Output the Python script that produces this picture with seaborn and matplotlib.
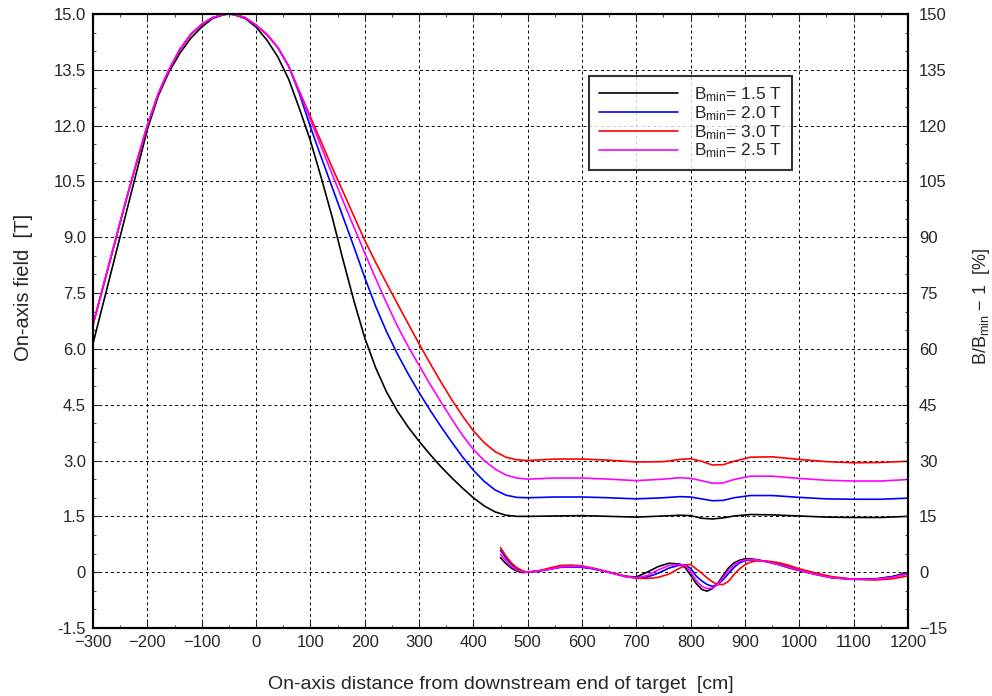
import numpy as np
import pandas as pd
import matplotlib.pyplot as plt
import seaborn as sns
from matplotlib.ticker import MultipleLocator, FixedLocator

# === 1. Data ===

series = ["1.5", "2.0", "3.0", "2.5"]
colors = ["black", "blue", "red", "magenta"]

# on-axis field [T]
z_cm = [-300, -280, -260, -240, -220, -200, -180, -160, -140, -120, -100, -80, -60, -50, -40, -20,
        0, 20, 40, 60, 80, 100, 120, 140, 160, 180, 200, 220, 240, 260, 280, 300, 320, 340, 360,
        380, 400, 420, 440, 460, 480, 500, 550, 600, 650, 700, 750, 780, 800, 820, 840, 860, 880,
        910, 950, 1000, 1050, 1100, 1150, 1200]

field_15 = [6.15, 7.3, 8.45, 9.6, 10.75, 11.9, 12.8, 13.45, 13.95, 14.35, 14.65, 14.88, 14.98, 15.0, 14.98, 14.88,
            14.65, 14.3, 13.85, 13.25, 12.45, 11.6, 10.6, 9.55, 8.4, 7.3, 6.3, 5.5, 4.85, 4.33, 3.9, 3.52, 3.17, 2.84, 2.54,
            2.26, 2.0, 1.78, 1.62, 1.53, 1.5, 1.5, 1.51, 1.52, 1.5, 1.48, 1.51, 1.53, 1.52, 1.45, 1.43, 1.46, 1.51,
            1.55, 1.54, 1.51, 1.48, 1.47, 1.47, 1.5]
field_20 = [6.65, 7.75, 8.85, 9.95, 11.0, 12.0, 12.85, 13.5, 14.05, 14.45, 14.72, 14.9, 14.99, 15.0, 14.99, 14.9,
            14.7, 14.45, 14.1, 13.6, 12.85, 11.97, 11.15, 10.35, 9.55, 8.75, 7.92, 7.15, 6.47, 5.87, 5.33, 4.83, 4.36, 3.92, 3.5,
            3.1, 2.74, 2.44, 2.21, 2.07, 2.01, 2.0, 2.02, 2.02, 2.0, 1.97, 2.0, 2.03, 2.02, 1.97, 1.92, 1.93, 2.0,
            2.06, 2.06, 2.01, 1.97, 1.96, 1.96, 1.99]
field_30 = [6.65, 7.75, 8.85, 9.95, 11.0, 12.0, 12.85, 13.5, 14.05, 14.45, 14.72, 14.9, 14.99, 15.0, 14.99, 14.9,
            14.7, 14.45, 14.1, 13.6, 12.92, 12.24, 11.56, 10.88, 10.23, 9.57, 8.92, 8.33, 7.77, 7.22, 6.68, 6.14, 5.62, 5.12, 4.64,
            4.2, 3.8, 3.48, 3.24, 3.09, 3.02, 3.0, 3.04, 3.04, 3.01, 2.96, 2.97, 3.03, 3.05, 2.98, 2.88, 2.89, 2.98,
            3.09, 3.1, 3.03, 2.97, 2.94, 2.95, 2.98]
field_25 = [6.67, 7.77, 8.87, 9.97, 11.02, 12.02, 12.87, 13.52, 14.06, 14.46, 14.73, 14.9, 14.99, 15.0, 14.99, 14.9,
            14.7, 14.45, 14.1, 13.6, 12.9, 12.16, 11.43, 10.7, 9.98, 9.28, 8.58, 7.9, 7.24, 6.62, 6.07, 5.56, 5.06, 4.58, 4.12,
            3.68, 3.3, 3.0, 2.77, 2.61, 2.53, 2.5, 2.53, 2.53, 2.5, 2.46, 2.5, 2.54, 2.52, 2.46, 2.39, 2.4, 2.49,
            2.58, 2.58, 2.52, 2.47, 2.45, 2.45, 2.49]

# B/Bmin - 1 [%]
z_dev = [450, 460, 470, 480, 490, 500, 520, 540, 560, 580, 600, 620, 640, 660, 680, 700, 720, 740, 760, 780,
         790, 800, 810, 820, 830, 840, 850, 860, 870, 880, 890, 900, 910, 920, 940, 960, 980, 1000,
         1030, 1060, 1100, 1140, 1170, 1200]

dev_15 = [3.9, 2.3, 1.1, 0.3, -0.1, 0.0, 0.3, 0.8, 1.4, 1.6, 1.5, 1.0, 0.3, -0.4, -1.1, -1.3, 0.0, 1.5, 2.4, 2.2,
          1.2, -0.8, -3.0, -4.6, -5.1, -4.4, -3.0, -0.8, 1.2, 2.5, 3.2, 3.6, 3.6, 3.4, 2.8, 2.1, 1.2, 0.4,
          -0.6, -1.5, -1.9, -1.8, -1.2, -0.1]
dev_20 = [5.9, 3.8, 2.2, 0.9, 0.2, 0.0, 0.3, 0.8, 1.3, 1.4, 1.3, 0.9, 0.3, -0.4, -1.2, -1.5, -1.3, -0.3, 1.1, 1.9,
          2.0, 1.0, -1.0, -2.3, -3.3, -3.8, -3.3, -2.0, -0.3, 1.3, 2.5, 3.1, 3.3, 3.3, 2.9, 2.3, 1.5, 0.6,
          -0.5, -1.4, -1.9, -1.9, -1.3, -0.45]
dev_30 = [6.6, 4.3, 2.5, 1.2, 0.4, 0.0, 0.4, 1.1, 1.8, 1.9, 1.7, 1.1, 0.4, -0.3, -1.1, -1.6, -1.7, -1.4, -0.5, 1.1,
          1.9, 2.1, 0.9, -0.2, -1.5, -2.6, -3.3, -3.3, -2.4, -0.6, 0.9, 2.0, 2.7, 3.0, 3.0, 2.6, 1.9, 0.9,
          -0.2, -1.2, -1.9, -2.1, -1.8, -1.0]
dev_25 = [4.8, 3.0, 1.6, 0.6, 0.1, 0.0, 0.3, 0.8, 1.4, 1.6, 1.5, 1.0, 0.3, -0.4, -1.2, -1.6, -0.9, 0.6, 1.8, 2.1,
          1.8, 0.1, -2.2, -3.8, -4.4, -4.3, -3.3, -1.4, 0.5, 2.0, 2.9, 3.3, 3.4, 3.3, 2.8, 2.1, 1.3, 0.5,
          -0.6, -1.5, -1.9, -1.9, -1.4, -0.4]

left_ticks = [15.0, 13.5, 12.0, 10.5, 9.0, 7.5, 6.0, 4.5, 3.0, 1.5, 0, -1.5]
left_labels = ["15.0", "13.5", "12.0", "10.5", "9.0", "7.5", "6.0", "4.5", "3.0", "1.5", "0", "-1.5"]
right_ticks = [150, 135, 120, 105, 90, 75, 60, 45, 30, 15, 0, -15]

# === 2. Long tables for seaborn ===
labels = [r"B$_{\mathrm{min}}$= " + s + " T" for s in series]
field_df = pd.concat([pd.DataFrame({"z": z_cm, "B": v, "set": lab})
                      for v, lab in zip([field_15, field_20, field_30, field_25], labels)])
dev_df = pd.concat([pd.DataFrame({"z": z_dev, "dev": v, "set": lab})
                    for v, lab in zip([dev_15, dev_20, dev_30, dev_25], labels)])
palette = dict(zip(labels, colors))

# === 3. Plot ===
sns.set_style("ticks")
plt.rcParams['font.family'] = ['Liberation Sans', 'DejaVu Sans']
plt.rcParams['mathtext.fontset'] = 'custom'
plt.rcParams['mathtext.rm'] = 'Liberation Sans'
plt.rcParams['mathtext.it'] = 'Liberation Sans:italic'

fig = plt.figure(figsize=(9.92, 6.96), dpi=100)
ax = fig.add_axes([0.0938, 0.0977, 0.8215, 0.8822])
ax2 = ax.twinx()

sns.lineplot(data=field_df, x="z", y="B", hue="set", hue_order=labels, palette=palette,
             sort=False, estimator=None, linewidth=1.2, ax=ax)
sns.lineplot(data=dev_df, x="z", y="dev", hue="set", hue_order=labels, palette=palette,
             sort=False, estimator=None, linewidth=1.2, ax=ax2, legend=False)

ax.set_xlim(-300, 1200)
ax.set_ylim(-1.5, 15.0)
ax2.set_ylim(-15, 150)

ax.xaxis.set_major_locator(MultipleLocator(100))
ax.xaxis.set_minor_locator(MultipleLocator(50))
ax.yaxis.set_major_locator(FixedLocator(left_ticks))
ax.set_yticklabels(left_labels)
ax.yaxis.set_minor_locator(MultipleLocator(0.5))
ax2.yaxis.set_major_locator(FixedLocator(right_ticks))
ax2.yaxis.set_minor_locator(MultipleLocator(5))

ax.grid(True, which="major", color="black", linestyle=(0, (3, 3)), linewidth=0.7)
ax.tick_params(which="both", direction="in", top=True, labelsize=12)
ax.tick_params(axis="x", pad=5)
ax.tick_params(axis="y", pad=5)
ax.tick_params(which="major", length=4)
ax.tick_params(which="minor", length=2)
ax2.tick_params(which="both", direction="in", labelsize=12, pad=8)
ax2.tick_params(which="major", length=4)
ax2.tick_params(which="minor", length=2)
for a in (ax, ax2):
    for sp in a.spines.values():
        sp.set_linewidth(1.5)
        sp.set_color("black")

ax.set_xlabel("On-axis distance from downstream end of target  [cm]", fontsize=14, labelpad=19)
ax.set_ylabel("On-axis field  [T]", fontsize=14.5)
ax.yaxis.set_label_coords(-0.074, 0.555)
ax2.set_ylabel(r"B/B$_{\mathrm{min}}$ $-$ 1  [%]", fontsize=13)
ax2.yaxis.set_label_coords(1.077, 0.524)

leg = ax.legend(loc="upper left", bbox_to_anchor=(0.6086, 0.899), borderaxespad=0, fontsize=12.5,
                handlelength=4.6, labelspacing=0.0, borderpad=0.55, handletextpad=0.9,
                frameon=True, fancybox=False, edgecolor="black", title=None)
leg.get_frame().set_linewidth(1.5)

fig.savefig("out.png", dpi=100)
